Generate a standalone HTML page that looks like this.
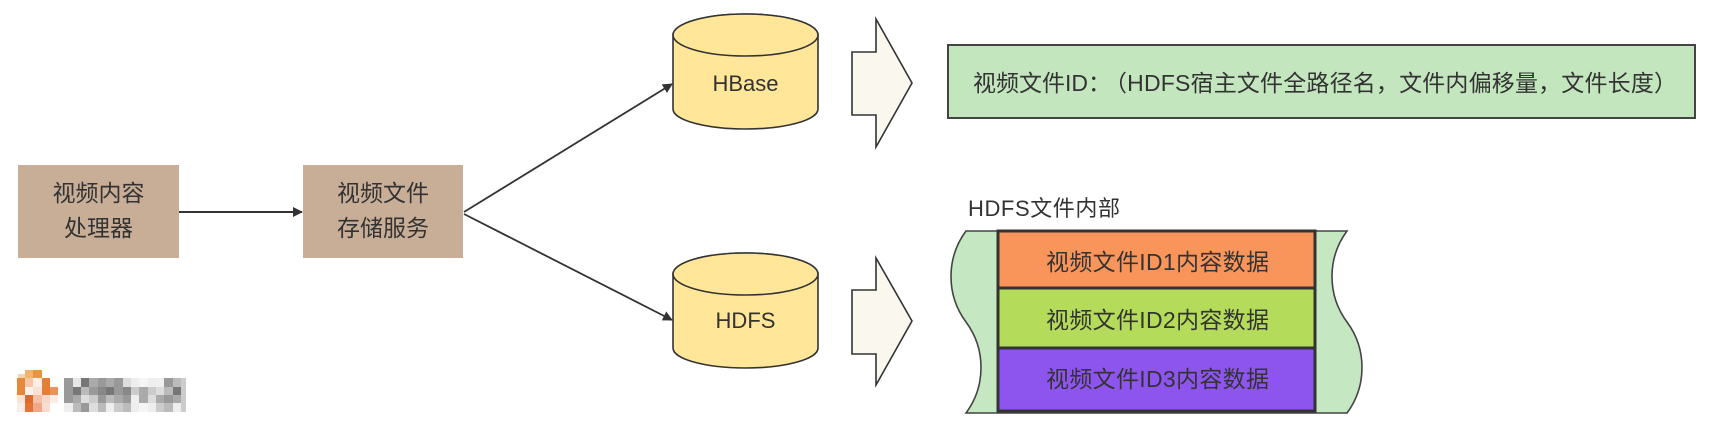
<!DOCTYPE html>
<html>
<head>
<meta charset="utf-8">
<style>
html,body{margin:0;padding:0;background:#fff;}
body{width:1711px;height:428px;overflow:hidden;}
svg{display:block;}
text{font-family:"Liberation Sans","Noto Sans CJK SC",sans-serif;fill:#333;text-spacing-trim:space-all;}
</style>
</head>
<body>
<svg width="1711" height="428" viewBox="0 0 1711 428" xmlns="http://www.w3.org/2000/svg">
  <defs>
    <marker id="ah" markerWidth="10" markerHeight="10" refX="9" refY="5" orient="auto" markerUnits="userSpaceOnUse">
      <path d="M0,0 L10,5 L0,10 Z" fill="#333"/>
    </marker>
  </defs>

  <!-- Box 1 -->
  <rect x="18" y="165" width="161" height="93" fill="#C9AE97"/>
  <text x="98.5" y="201" font-size="23" text-anchor="middle">视频内容</text>
  <text x="98.5" y="236" font-size="23" text-anchor="middle">处理器</text>

  <!-- Box 2 -->
  <rect x="303" y="165" width="160" height="93" fill="#C9AE97"/>
  <text x="383" y="201" font-size="23" text-anchor="middle">视频文件</text>
  <text x="383" y="236" font-size="23" text-anchor="middle">存储服务</text>

  <!-- connectors -->
  <line x1="179" y1="212" x2="302" y2="212" stroke="#333" stroke-width="2" marker-end="url(#ah)"/>
  <line x1="464" y1="212" x2="672" y2="84" stroke="#333" stroke-width="1.8" marker-end="url(#ah)"/>
  <line x1="464" y1="214" x2="672" y2="320" stroke="#333" stroke-width="1.8" marker-end="url(#ah)"/>

  <!-- HBase cylinder -->
  <path d="M673,35 L673,109 A72.5,20 0 0 0 818,109 L818,35 A72.5,21 0 0 0 673,35 Z" fill="#FFE699" stroke="#333" stroke-width="1.6"/>
  <ellipse cx="745.5" cy="35" rx="72.5" ry="21" fill="#FFE699" stroke="#333" stroke-width="1.6"/>
  <text x="745.5" y="91" font-size="22" text-anchor="middle">HBase</text>

  <!-- HDFS cylinder -->
  <path d="M673,274 L673,348 A72.5,20 0 0 0 818,348 L818,274 A72.5,21 0 0 0 673,274 Z" fill="#FFE699" stroke="#333" stroke-width="1.6"/>
  <ellipse cx="745.5" cy="274" rx="72.5" ry="21" fill="#FFE699" stroke="#333" stroke-width="1.6"/>
  <text x="745.5" y="328" font-size="22" text-anchor="middle">HDFS</text>

  <!-- fat arrows -->
  <polygon points="852,52 876,52 876,19 912,83 876,147 876,115 852,115" fill="#FAF8EE" stroke="#333" stroke-width="1.6" stroke-linejoin="miter"/>
  <polygon points="852,290 876,290 876,258 912,321 876,385 876,354 852,354" fill="#FAF8EE" stroke="#333" stroke-width="1.6" stroke-linejoin="miter"/>

  <!-- green ID box -->
  <rect x="948" y="45" width="747" height="73" fill="#C3E6BE" stroke="#444" stroke-width="2"/>
  <text x="973" y="91" font-size="23">视频文件ID：</text>
  <text x="1104" y="91" font-size="23" textLength="573" lengthAdjust="spacing">（HDFS宿主文件全路径名，文件内偏移量，文件长度）</text>

  <!-- HDFS internal label -->
  <text x="968" y="216" font-size="22" textLength="152" lengthAdjust="spacing">HDFS文件内部</text>

  <!-- wavy file shape -->
  <path d="M966,231 L1347,231 C1327,258 1327,295 1347,322 C1367,349 1367,386 1347,413 L966,413 C986,386 986,349 966,322 C946,295 946,258 966,231 Z" fill="#C5E8C2" stroke="#444" stroke-width="1.6"/>

  <!-- rows -->
  <rect x="998" y="231" width="317" height="57" fill="#F9955A" stroke="#333" stroke-width="3"/>
  <rect x="998" y="288" width="317" height="60" fill="#B4DC5A" stroke="#333" stroke-width="3"/>
  <rect x="998" y="348" width="317" height="63" fill="#8E55EE" stroke="#333" stroke-width="3"/>
  <text x="1046" y="270" font-size="23" textLength="223" lengthAdjust="spacing">视频文件ID1内容数据</text>
  <text x="1046" y="328" font-size="23" textLength="223" lengthAdjust="spacing">视频文件ID2内容数据</text>
  <text x="1046" y="387" font-size="23" textLength="223" lengthAdjust="spacing">视频文件ID3内容数据</text>

  <!-- watermark (pixelated) -->
  <g shape-rendering="crispEdges">
    <rect x="25" y="370" width="8" height="8" fill="#F2B36E"/>
    <rect x="33" y="370" width="9" height="8" fill="#E9953C"/>
    <rect x="18" y="374" width="7" height="4" fill="#F6D2B0"/>
    <rect x="17" y="378" width="8" height="9" fill="#E58A3A"/>
    <rect x="25" y="378" width="8" height="9" fill="#F6C6A6"/>
    <rect x="33" y="378" width="9" height="9" fill="#FBEEE6"/>
    <rect x="42" y="378" width="8" height="9" fill="#E57F36"/>
    <rect x="17" y="387" width="8" height="8" fill="#E78838"/>
    <rect x="25" y="387" width="8" height="8" fill="#FBF0EA"/>
    <rect x="33" y="387" width="9" height="8" fill="#F9E0D0"/>
    <rect x="42" y="387" width="8" height="8" fill="#E47F3A"/>
    <rect x="50" y="387" width="8" height="8" fill="#EA935A"/>
    <rect x="17" y="395" width="8" height="8" fill="#F8E4DA"/>
    <rect x="25" y="395" width="8" height="8" fill="#E06A2A"/>
    <rect x="33" y="395" width="9" height="8" fill="#F4C0A8"/>
    <rect x="42" y="395" width="8" height="8" fill="#F7D8C8"/>
    <rect x="50" y="395" width="8" height="8" fill="#FBECE6"/>
    <rect x="17" y="403" width="8" height="9" fill="#FBEEE8"/>
    <rect x="25" y="403" width="8" height="9" fill="#E47436"/>
    <rect x="33" y="403" width="9" height="9" fill="#F1A888"/>
    <rect x="42" y="403" width="8" height="9" fill="#F8DDD0"/>
  </g>
  <g shape-rendering="crispEdges">
    <rect x="64" y="378" width="9" height="9" fill="#999"/>
    <rect x="73" y="378" width="8" height="9" fill="#e6e6e6"/>
    <rect x="81" y="378" width="8" height="9" fill="#777"/>
    <rect x="89" y="378" width="9" height="9" fill="#aaa"/>
    <rect x="98" y="378" width="8" height="9" fill="#999"/>
    <rect x="106" y="378" width="8" height="9" fill="#aaa"/>
    <rect x="114" y="378" width="9" height="9" fill="#999"/>
    <rect x="123" y="378" width="8" height="9" fill="#ddd"/>
    <rect x="131" y="378" width="8" height="9" fill="#eee"/>
    <rect x="139" y="378" width="9" height="9" fill="#f5f5f5"/>
    <rect x="148" y="378" width="8" height="9" fill="#eee"/>
    <rect x="156" y="378" width="8" height="9" fill="#f0f0f0"/>
    <rect x="164" y="378" width="9" height="9" fill="#999"/>
    <rect x="173" y="378" width="8" height="9" fill="#bbb"/>
    <rect x="181" y="378" width="5" height="9" fill="#ccc"/>
    <rect x="64" y="387" width="9" height="8" fill="#999"/>
    <rect x="73" y="387" width="8" height="8" fill="#777"/>
    <rect x="81" y="387" width="8" height="8" fill="#bbb"/>
    <rect x="89" y="387" width="9" height="8" fill="#999"/>
    <rect x="98" y="387" width="8" height="8" fill="#888"/>
    <rect x="106" y="387" width="8" height="8" fill="#777"/>
    <rect x="114" y="387" width="9" height="8" fill="#999"/>
    <rect x="123" y="387" width="8" height="8" fill="#888"/>
    <rect x="131" y="387" width="8" height="8" fill="#ccc"/>
    <rect x="139" y="387" width="9" height="8" fill="#aaa"/>
    <rect x="148" y="387" width="8" height="8" fill="#ccc"/>
    <rect x="156" y="387" width="8" height="8" fill="#ddd"/>
    <rect x="164" y="387" width="9" height="8" fill="#bbb"/>
    <rect x="173" y="387" width="8" height="8" fill="#777"/>
    <rect x="181" y="387" width="5" height="8" fill="#ccc"/>
    <rect x="64" y="395" width="9" height="8" fill="#999"/>
    <rect x="73" y="395" width="8" height="8" fill="#aaa"/>
    <rect x="81" y="395" width="8" height="8" fill="#ddd"/>
    <rect x="89" y="395" width="9" height="8" fill="#ccc"/>
    <rect x="98" y="395" width="8" height="8" fill="#999"/>
    <rect x="106" y="395" width="8" height="8" fill="#bbb"/>
    <rect x="114" y="395" width="9" height="8" fill="#aaa"/>
    <rect x="123" y="395" width="8" height="8" fill="#999"/>
    <rect x="131" y="395" width="8" height="8" fill="#eee"/>
    <rect x="139" y="395" width="9" height="8" fill="#aaa"/>
    <rect x="148" y="395" width="8" height="8" fill="#ddd"/>
    <rect x="156" y="395" width="8" height="8" fill="#aaa"/>
    <rect x="164" y="395" width="9" height="8" fill="#999"/>
    <rect x="173" y="395" width="8" height="8" fill="#aaa"/>
    <rect x="181" y="395" width="5" height="8" fill="#ccc"/>
    <rect x="64" y="403" width="9" height="9" fill="#eee"/>
    <rect x="73" y="403" width="8" height="9" fill="#bbb"/>
    <rect x="81" y="403" width="8" height="9" fill="#999"/>
    <rect x="89" y="403" width="9" height="9" fill="#ddd"/>
    <rect x="98" y="403" width="8" height="9" fill="#bbb"/>
    <rect x="106" y="403" width="8" height="9" fill="#eee"/>
    <rect x="114" y="403" width="9" height="9" fill="#ccc"/>
    <rect x="123" y="403" width="8" height="9" fill="#bbb"/>
    <rect x="131" y="403" width="8" height="9" fill="#eee"/>
    <rect x="139" y="403" width="9" height="9" fill="#f5f5f5"/>
    <rect x="148" y="403" width="8" height="9" fill="#eee"/>
    <rect x="156" y="403" width="8" height="9" fill="#ccc"/>
    <rect x="164" y="403" width="9" height="9" fill="#bbb"/>
    <rect x="173" y="403" width="8" height="9" fill="#eee"/>
    <rect x="181" y="403" width="5" height="9" fill="#ccc"/>
  </g>
</svg>
</body>
</html>
